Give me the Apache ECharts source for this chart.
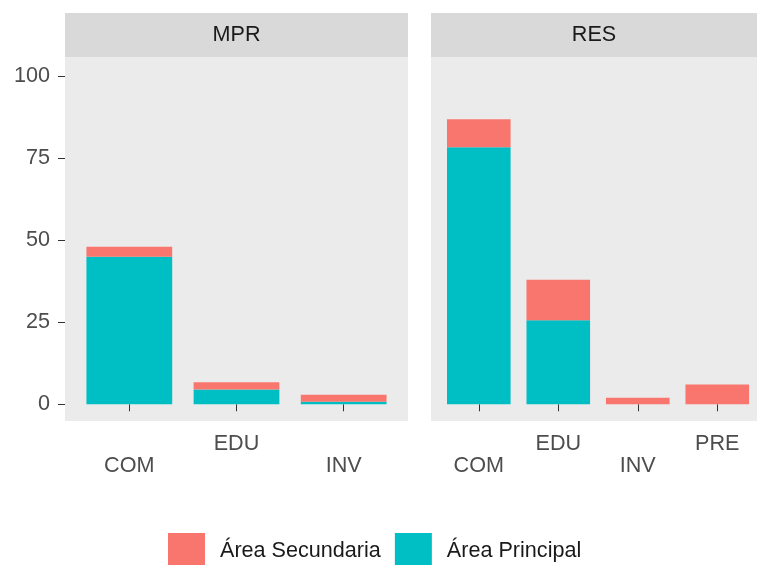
<!DOCTYPE html>
<html>
<head>
<meta charset="utf-8">
<script src="https://cdn.jsdelivr.net/npm/echarts@6/dist/echarts.min.js"></script>
<style>
  html, body { margin: 0; padding: 0; background: #fff; }
  #chart { width: 757px; height: 565px; }
</style>
</head>
<body>
<div id="chart"></div>
<script>
// datos por panel
const categoriesMPR = ["COM", "EDU", "INV"];
const principalMPR = [45, 4.5, 0.8];
const secundariaMPR = [3, 2.2, 2.1];

const categoriesRES = ["COM", "EDU", "INV", "PRE"];
const principalRES = [78.4, 25.6, 0, 0];
const secundariaRES = [8.5, 12.4, 2, 6];

const yTicks = [0, 25, 50, 75, 100];
const panels = ["MPR", "RES"];

const FONT = "Liberation Sans, Arial, sans-serif";
const FS = 21.6;
const PINK = "#F8766D";
const TEAL = "#00BFC4";

// layout de los paneles (px)
const panelTop = 57, panelH = 364, stripH = 44;
const leftP = { left: 65, width: 343 };
const rightP = { left: 431, width: 338 };

// ggplot expande 0.6 por lado en ejes discretos; echarts usa 0.5 -> se ajusta el grid
const padFor = (p, n) => 0.1 * p.width / (n + 0.2);
const gridFor = (p, n) => {
  const u = p.width / (n + 0.2);
  return { left: p.left + 0.1 * u, top: panelTop, width: n * u, height: panelH, show: false };
};

const xAxisFor = (gridIndex, cats) => ({
  type: "category",
  gridIndex,
  data: cats,
  axisLine: { show: false },
  axisTick: { show: true, alignWithLabel: true, interval: 0, length: 7, lineStyle: { color: "#333" } },
  axisLabel: {
    interval: 0,
    margin: 12,
    fontSize: FS,
    lineHeight: 22,
    fontFamily: FONT,
    color: "#4D4D4D",
    // etiquetas escalonadas (n.dodge = 2)
    formatter: (v, i) => (i % 2 === 0 ? "\n" + v : v),
  },
});

const yAxisFor = (gridIndex, showLabels, offset) => ({
  type: "value",
  gridIndex,
  offset,
  min: -5.1,
  max: 105.9,
  splitLine: { show: false },
  axisLine: { show: false },
  axisTick: { show: showLabels, length: 7, lineStyle: { color: "#333" }, customValues: yTicks },
  axisLabel: {
    show: showLabels,
    customValues: yTicks,
    margin: 15,
    fontSize: FS,
    fontFamily: FONT,
    color: "#4D4D4D",
  },
});

const barSeries = (name, idx, data, color) => ({
  name,
  type: "bar",
  stack: "s" + idx,
  xAxisIndex: idx,
  yAxisIndex: idx,
  barWidth: "80%",
  itemStyle: { color },
  data,
});

const chart = echarts.init(document.getElementById("chart"));
chart.setOption({
  animation: false,
  grid: [gridFor(leftP, categoriesMPR.length), gridFor(rightP, categoriesRES.length)],
  xAxis: [xAxisFor(0, categoriesMPR), xAxisFor(1, categoriesRES)],
  yAxis: [
    yAxisFor(0, true, padFor(leftP, categoriesMPR.length)),
    yAxisFor(1, false, padFor(rightP, categoriesRES.length)),
  ],
  legend: {
    data: ["Área Secundaria", "Área Principal"],
    left: 168,
    top: 533,
    padding: 0,
    icon: "rect",
    itemWidth: 37,
    itemHeight: 37,
    itemGap: 14,
    textStyle: { fontSize: FS, fontFamily: FONT, color: "#1A1A1A", padding: [0, 0, 0, 10] },
  },
  // fondos de panel y tiras de facetas
  graphic: [
    { type: "rect", z: -10, shape: { x: leftP.left, y: panelTop, width: leftP.width, height: panelH }, style: { fill: "#EBEBEB" } },
    { type: "rect", z: -10, shape: { x: rightP.left, y: panelTop, width: rightP.width, height: panelH }, style: { fill: "#EBEBEB" } },
    { type: "rect", shape: { x: leftP.left, y: panelTop - stripH, width: leftP.width, height: stripH }, style: { fill: "#D9D9D9" } },
    { type: "rect", shape: { x: rightP.left, y: panelTop - stripH, width: rightP.width, height: stripH }, style: { fill: "#D9D9D9" } },
    { type: "text", x: leftP.left + leftP.width / 2, y: panelTop - stripH / 2, style: { text: panels[0], align: "center", verticalAlign: "middle", fontSize: FS, fontFamily: FONT, fill: "#1A1A1A" } },
    { type: "text", x: rightP.left + (757 - rightP.left) / 2, y: panelTop - stripH / 2, style: { text: panels[1], align: "center", verticalAlign: "middle", fontSize: FS, fontFamily: FONT, fill: "#1A1A1A" } },
  ],
  series: [
    barSeries("Área Principal", 0, principalMPR, TEAL),
    barSeries("Área Secundaria", 0, secundariaMPR, PINK),
    barSeries("Área Principal", 1, principalRES, TEAL),
    barSeries("Área Secundaria", 1, secundariaRES, PINK),
  ],
});
</script>
</body>
</html>
